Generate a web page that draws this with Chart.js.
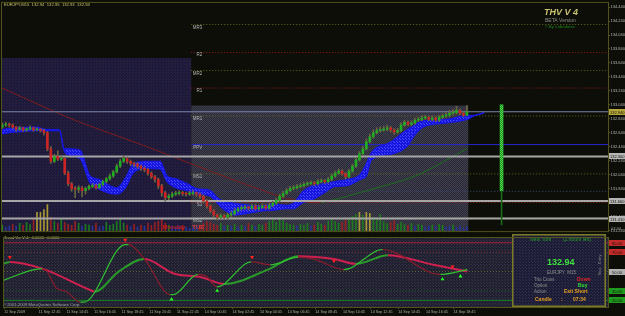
<!DOCTYPE html>
<html>
<head>
<meta charset="utf-8">
<script src="https://cdn.jsdelivr.net/npm/chart.js@4.4.0/dist/chart.umd.min.js"></script>
<style>
  html, body { margin: 0; padding: 0; background: #0c0e07; }
  #wrap { position: relative; width: 625px; height: 316px; overflow: hidden; }
  #main { position: absolute; left: 0; top: 0; }
  #osc { position: absolute; left: 0; top: 234px; }
</style>
</head>
<body>
<div id="wrap">
  <canvas id="main" width="625" height="234"></canvas>
  <canvas id="osc" width="625" height="82"></canvas>
</div>
<script>
// ---------------- DATA ----------------
// EURJPY M15, bar 0 = 11 Sep 2009 10:15
const firstOpen = 132.72;
const closes = [
  132.75,132.76,132.75,132.72,132.69,132.71,132.68,132.69,132.71,132.68,
  132.69,132.67,132.64,132.41,132.23,132.30,132.26,132.27,132.06,131.91,
  131.84,131.83,131.85,131.81,131.84,131.87,131.88,131.85,131.90,131.94,
  131.98,132.02,132.08,132.16,132.23,132.27,132.23,132.20,132.19,132.16,
  132.13,132.11,132.06,132.01,131.97,131.88,131.78,131.71,131.73,131.76,
  131.77,131.78,131.77,131.76,131.77,131.78,131.76,131.73,131.66,131.59,
  131.52,131.46,131.43,131.45,131.43,131.46,131.48,131.52,131.55,131.56,
  131.57,131.56,131.59,131.55,131.57,131.59,131.56,131.60,131.63,131.67,
  131.73,131.77,131.81,131.84,131.85,131.87,131.88,131.90,131.91,131.92,
  131.91,131.94,131.95,131.94,131.97,132.02,132.06,132.09,132.05,132.01,
  132.09,132.16,132.25,132.34,132.41,132.51,132.58,132.64,132.67,132.68,
  132.69,132.71,132.68,132.65,132.67,132.75,132.79,132.76,132.78,132.82,
  132.83,132.85,132.86,132.83,132.85,132.82,132.86,132.88,132.89,132.92,
  132.93,132.96,132.92,132.89,132.94
];
const highs = [
  132.78,132.79,132.78,132.77,132.73,132.73,132.72,132.71,132.74,132.72,
  132.71,132.70,132.69,132.66,132.44,132.33,132.38,132.30,132.29,132.09,
  131.93,131.87,131.88,131.87,131.86,131.89,131.91,131.90,131.92,131.96,
  132.00,132.05,132.10,132.19,132.26,132.31,132.29,132.25,132.22,132.21,
  132.18,132.15,132.13,132.08,132.03,131.99,131.90,131.80,131.76,131.79,
  131.80,131.81,131.80,131.79,131.80,131.81,131.79,131.78,131.75,131.68,
  131.61,131.54,131.48,131.48,131.47,131.49,131.51,131.55,131.57,131.59,
  131.60,131.59,131.61,131.61,131.60,131.62,131.61,131.63,131.66,131.70,
  131.76,131.80,131.84,131.87,131.88,131.90,131.91,131.93,131.94,131.95,
  131.94,131.97,131.98,131.97,132.00,132.05,132.09,132.12,132.11,132.07,
  132.11,132.19,132.28,132.37,132.45,132.55,132.62,132.68,132.71,132.72,
  132.73,132.75,132.73,132.70,132.70,132.78,132.82,132.81,132.81,132.85,
  132.86,132.88,132.89,132.88,132.88,132.87,132.89,132.91,132.93,132.96,
  132.97,133.02,132.98,132.94,133.03
];
const lows = [
  132.70,132.73,132.72,132.70,132.66,132.67,132.66,132.66,132.68,132.66,
  132.67,132.65,132.61,132.38,132.20,132.21,132.24,132.24,132.04,131.88,
  131.80,131.71,131.78,131.72,131.76,131.82,131.85,131.83,131.84,131.88,
  131.92,131.96,132.00,132.06,132.14,132.21,132.20,132.17,132.15,132.13,
  132.10,132.08,132.03,131.98,131.93,131.84,131.73,131.66,131.68,131.71,
  131.74,131.75,131.74,131.73,131.74,131.75,131.73,131.70,131.63,131.56,
  131.49,131.43,131.39,131.41,131.40,131.41,131.44,131.46,131.50,131.53,
  131.54,131.53,131.54,131.53,131.53,131.55,131.54,131.54,131.58,131.61,
  131.65,131.71,131.75,131.79,131.82,131.83,131.85,131.86,131.88,131.89,
  131.88,131.89,131.92,131.91,131.92,131.95,132.00,132.04,132.03,131.98,
  131.99,132.07,132.14,132.23,132.32,132.39,132.49,132.56,132.62,132.65,
  132.66,132.67,132.65,132.62,132.63,132.65,132.73,132.74,132.74,132.76,
  132.80,132.81,132.83,132.81,132.81,132.80,132.80,132.84,132.86,132.87,
  132.90,132.91,132.90,132.87,132.88
];
const volumes = [
  210,140,175,245,175,280,210,315,245,420,
  665,665,770,945,490,350,280,420,315,245,
  210,350,280,175,245,210,175,280,140,175,
  315,210,245,350,420,280,210,175,245,140,
  210,175,280,210,315,350,420,280,210,175,
  140,175,210,140,105,140,175,210,280,350,
  315,245,210,280,175,210,175,245,140,210,
  175,280,210,175,245,210,280,350,420,315,
  490,385,280,245,210,175,245,210,280,175,
  210,315,245,210,350,420,350,280,315,385,
  455,525,595,665,560,665,630,490,420,595,
  350,280,315,385,245,315,245,210,280,175,
  245,210,140,175,210,175,245,210,140,175,
  210,140,175,105,140
];

// blue ribbon (upper / lower edge)
const bandIdx = [-1,4,10,12,16.5,17.8,18.5,22.4,25.3,28,31,33,35.5,37.7,41,45.5,47.5,50,53.3,56,60,62,63.7,67,71.4,75,78,82,84,86.7,89,92.5,96,99.4,103.2,105,106.5,111.8,116.7,119,121.3,128.3,134,136,139];
const bandTop = [132.68,132.71,132.72,132.69,132.68,132.41,132.41,132.39,132.02,131.97,131.88,131.85,131.99,132.19,132.23,132.23,132.02,131.98,131.91,131.84,131.81,131.71,131.66,131.63,131.60,131.59,131.62,131.60,131.63,131.80,131.87,131.91,131.94,131.97,132.04,132.20,132.36,132.50,132.68,132.75,132.81,132.83,132.89,132.89,132.93];
const bandBot = [132.62,132.65,132.67,132.67,132.67,132.39,132.33,132.27,131.92,131.83,131.77,131.76,131.85,132.06,132.13,132.12,131.94,131.85,131.81,131.76,131.73,131.63,131.55,131.46,131.49,131.52,131.53,131.55,131.55,131.64,131.67,131.77,131.87,131.88,131.97,132.02,132.25,132.33,132.44,132.61,132.72,132.78,132.83,132.88,132.92];

// slow moving average
const maIdx = [-0.09,20.4,40.6,60,81,86,92,103,115,121,134];
const maVals = [133.28,132.83,132.46,132.09,131.71,131.66,131.64,131.78,131.95,132.06,132.41];

// levels
const bidPrice = 132.94;
const rangeLevels = [132.30, 131.66, 131.41];
const guideLevel = 131.80;
const pivotStart = 54.5;
const pivotNames = ['MR3','R2','MR2','R1','MR1','PPV','MS1','S1','MS2'];
const pivotVals = [134.19,133.79,133.53,133.28,132.88,132.47,132.05,131.64,131.42];

// session boxes (Friday / Monday)
const sessionStart = [-0.09, 54.5];
const sessionEnd = [54.5, 134.4];
const sessionHigh = [133.71, 133.03];

// projected candle
const projIdx = 144;
const projOpen = 131.81, projClose = 133.04, projLow = 131.32;

// axes
const xMin = -0.09, xMax = 174.7;
const priceTicks = [134.44,134.24,134.04,133.84,133.64,133.44,133.24,133.04,132.84,132.64,132.44,132.24,132.04,131.84,131.64,131.44,131.24];
const timeIdx = [0,10,18,26,34,42,50,58,66,74,82,90,98,106,114,122,130];
const timeLabels = ['11 Sep 2009','11 Sep 12:45','11 Sep 14:45','11 Sep 16:45','11 Sep 18:45','11 Sep 20:45','11 Sep 22:45',
  '14 Sep 00:45','14 Sep 02:45','14 Sep 04:45','14 Sep 06:45','14 Sep 08:45','14 Sep 10:45','14 Sep 12:45',
  '14 Sep 14:45','14 Sep 16:45','14 Sep 18:45'];

// oscillator (Trend Vs. V 4)
const fastIdx = [-1,11,12,15,18,22,23,35,36,40.6,48,49,56,58.5,61.5,71.5,77,85,89.6,98.3,109.5,126.2,134];
const fastVals = [40,53,52,33,29,18,18,78,78,63,26,26,47,45,34,60,57,65,63,52,73,47,52];
const slowIdx = [-1,1.6,11,25.3,26.2,33.1,40.6,49,57,63.7,76.3,85,95.4,101.7,111,124.2,134];
const slowVals = [57,60,53,30,29,50,63,48,44,37,52,66,63,58,67,57,50];
const downIdx = [1.6,35,71.7,95.4,129.7];
const downVals = [65,83,65,61,55];
const upIdx = [48.4,61.6,126.8,132];
const upVals = [21,30,42,45];
const oscLevels = [80,70,50,30,20];

// ---------------- HELPERS ----------------
const FONT = '"Liberation Sans", Arial, sans-serif';

function dotPattern(base, dot, size) {
  const c = document.createElement('canvas');
  c.width = size; c.height = size;
  const g = c.getContext('2d');
  g.fillStyle = base; g.fillRect(0, 0, size, size);
  g.fillStyle = dot;
  g.fillRect(0, 0, 1, 1);
  g.fillRect(Math.floor(size / 2), Math.floor(size / 2), 1, 1);
  return g.createPattern(c, 'repeat');
}

const pat = {
  fri: dotPattern('#1b1a3c', '#33233a', 3),
  mon: dotPattern('#282838', '#40404c', 2),
  band: dotPattern('#1616e0', '#4c4cf8', 3),
  osc: dotPattern('#202032', '#34343e', 3),
  widget: dotPattern('#1c1c36', '#30304a', 3),
  proj: dotPattern('#1c9c1c', '#50d050', 2)
};

const pts = (xs, ys) => xs.map((v, k) => ({ x: v, y: ys[k] }));
const hline = (v, from, to) => [{ x: from, y: v }, { x: to, y: v }];

const opens = closes.map((c, i) => i === 0 ? firstOpen : closes[i - 1]);
const isUp = closes.map((c, i) => c >= opens[i]);

function volColor(i) {
  if (volumes[i] >= 600) return '#a89a30';
  if (volumes[i] < 200) return '#283496';
  return isUp[i] ? '#1b7a1b' : '#942020';
}

function pivotStyle(n) {
  if (n === 'PPV') return { color: '#2626cc', dash: [] };
  if (n.startsWith('M')) return { color: '#6a6a22', dash: [1, 2] };
  return { color: '#9c1c1c', dash: [1, 2] };
}

// ---------------- MAIN CHART ----------------
const mainDeco = {
  id: 'mainDeco',
  beforeDraw(chart) {
    const { ctx, chartArea: a, scales: { x, y } } = chart;
    ctx.save();
    ctx.fillStyle = '#0c0e07';
    ctx.fillRect(0, 0, chart.width, chart.height);
    sessionStart.forEach((s, k) => {
      const x0 = Math.max(a.left, x.getPixelForValue(s));
      const x1 = Math.min(a.right, x.getPixelForValue(sessionEnd[k]));
      const y0 = y.getPixelForValue(sessionHigh[k]);
      ctx.fillStyle = k === 0 ? pat.fri : pat.mon;
      ctx.fillRect(x0, y0, x1 - x0, a.bottom - y0);
    });
    ctx.restore();
  },
  afterDraw(chart) {
    const { ctx, chartArea: a, scales: { x, y } } = chart;
    ctx.save();
    ctx.textBaseline = 'alphabetic';

    // pivot names
    const px0 = x.getPixelForValue(pivotStart);
    ctx.font = '4.5px ' + FONT;
    ctx.fillStyle = '#b4b4b4';
    ctx.textAlign = 'right';
    pivotNames.forEach((n, k) => {
      ctx.fillText(n, px0 + 11, y.getPixelForValue(pivotVals[k]) + 4);
    });

    // day separator labels
    ctx.font = 'bold 6px ' + FONT;
    ctx.fillStyle = '#c41c1c';
    ctx.fillText('Monday', px0 - 6, a.bottom - 2);
    ctx.textAlign = 'left';
    ctx.fillStyle = '#e03a3a';
    ctx.fillText('TUE', px0 + 1, a.bottom - 2);

    // header
    ctx.font = '4.2px ' + FONT;
    ctx.fillStyle = '#c8c070';
    ctx.fillText('EURJPY,M15  132.94  132.95  132.93  132.94', 4, 6);

    // THV banner
    ctx.font = 'italic bold 9px ' + FONT;
    ctx.fillStyle = '#c8c272';
    ctx.fillText('THV V 4', 544, 15);
    ctx.font = '5px ' + FONT;
    ctx.fillStyle = '#8c8c8c';
    ctx.fillText('BETA Version', 545, 22);
    ctx.font = '4px ' + FONT;
    ctx.fillStyle = '#1e8e1e';
    ctx.fillText('\u00a9 By Cobraforex', 545, 28);

    // right axis price boxes
    ctx.font = '4px ' + FONT;
    ctx.textBaseline = 'middle';
    const boxes = [[bidPrice, '#b4a63a']].concat(rangeLevels.map(v => [v, '#b4b4b4']));
    boxes.forEach(([v, col]) => {
      const py = Math.round(y.getPixelForValue(v));
      ctx.fillStyle = col;
      ctx.fillRect(a.right + 1, py - 3, 16, 6);
      ctx.fillStyle = '#141408';
      ctx.fillText(v.toFixed(3), a.right + 2, py + 0.5);
    });
    ctx.fillStyle = '#a0a0a0';
    ctx.fillText('07:34', a.right + 3, a.bottom - 2);

    // frame
    ctx.strokeStyle = '#52521c';
    ctx.lineWidth = 1;
    ctx.strokeRect(a.left - 0.5, a.top - 0.5, a.right - a.left + 1, a.bottom - a.top + 1);
    ctx.restore();
  }
};

const idx = closes.map((c, i) => i);
const mainDatasets = [
  {
    type: 'bar', label: 'body',
    data: idx.map(i => ({ x: i, y: [opens[i], closes[i]] })),
    backgroundColor: isUp.map(u => u ? '#1fae1f' : '#cc2424'),
    barThickness: 2, minBarLength: 1, grouped: false, order: 1
  },
  {
    type: 'bar', label: 'wick',
    data: idx.map(i => ({ x: i, y: [lows[i], highs[i]] })),
    backgroundColor: '#6a6640',
    barThickness: 1, grouped: false, order: 2
  },
  {
    type: 'bar', label: 'projBody',
    data: [{ x: projIdx, y: [projOpen, projClose] }],
    backgroundColor: pat.proj,
    barThickness: 3, grouped: false, order: 1
  },
  {
    type: 'bar', label: 'projWick',
    data: [{ x: projIdx, y: [projLow, projOpen] }],
    backgroundColor: '#1a6a1a',
    barThickness: 1, grouped: false, order: 2
  },
  {
    type: 'line', label: 'bandTop',
    data: pts(bandIdx, bandTop),
    borderColor: '#1818e6', borderWidth: 1.2, pointRadius: 0,
    cubicInterpolationMode: 'monotone', fill: false, order: 4
  },
  {
    type: 'line', label: 'bandBot',
    data: pts(bandIdx, bandBot),
    borderColor: '#1818e6', borderWidth: 1.2, pointRadius: 0,
    cubicInterpolationMode: 'monotone', fill: '-1', backgroundColor: pat.band, order: 4
  },
  {
    type: 'line', label: 'ma',
    data: pts(maIdx, maVals),
    borderWidth: 1, pointRadius: 0, tension: 0.3,
    segment: { borderColor: s => s.p1.parsed.y >= s.p0.parsed.y ? '#1b6e1b' : '#7e1c1c' },
    borderColor: '#7e1c1c', order: 5
  },
  {
    type: 'line', label: 'bid',
    data: hline(bidPrice, xMin, xMax),
    borderColor: '#7a86aa', borderWidth: 1, pointRadius: 0, order: 3
  },
  ...rangeLevels.map(v => ({
    type: 'line', label: 'range',
    data: hline(v, xMin, xMax),
    borderColor: '#a6a6a6', borderWidth: 2, pointRadius: 0, order: 3
  })),
  {
    type: 'line', label: 'guide',
    data: hline(guideLevel, pivotStart, xMax),
    borderColor: '#3a4a6e', borderWidth: 1, borderDash: [1, 2], pointRadius: 0, order: 6
  },
  ...pivotNames.map((n, k) => {
    const st = pivotStyle(n);
    return {
      type: 'line', label: n,
      data: hline(pivotVals[k], pivotStart, xMax),
      borderColor: st.color, borderWidth: 1, borderDash: st.dash, pointRadius: 0, order: 6
    };
  }),
  {
    type: 'bar', label: 'volume', yAxisID: 'yv',
    data: idx.map(i => ({ x: i, y: volumes[i] })),
    backgroundColor: idx.map(volColor),
    barThickness: 1, grouped: false, order: 7
  }
];

new Chart(document.getElementById('main'), {
  type: 'bar',
  data: { datasets: mainDatasets },
  options: {
    responsive: false, animation: false, events: [],
    layout: { padding: { left: 2, top: 1, right: 0, bottom: 1 } },
    plugins: { legend: { display: false }, tooltip: { enabled: false } },
    scales: {
      x: { type: 'linear', min: xMin, max: xMax, display: false, offset: false, grid: { offset: false } },
      y: {
        position: 'right', min: 131.23, max: 134.50,
        afterFit: s => { s.width = 17; },
        afterBuildTicks: s => { s.ticks = priceTicks.map(v => ({ value: v })); },
        ticks: {
          autoSkip: false, padding: 0.5, color: '#b8b8b8',
          font: { family: 'Liberation Sans', size: 4 },
          callback: v => Number(v).toFixed(3)
        },
        grid: { drawOnChartArea: false, tickLength: 2, color: '#56561c' },
        border: { display: false }
      },
      yv: { display: false, min: 0, max: 8120 }
    }
  },
  plugins: [mainDeco]
});

// ---------------- OSCILLATOR ----------------
const oscDeco = {
  id: 'oscDeco',
  beforeDraw(chart) {
    const { ctx, chartArea: a } = chart;
    ctx.save();
    ctx.fillStyle = '#0c0e07';
    ctx.fillRect(0, 0, chart.width, chart.height);
    ctx.fillStyle = pat.osc;
    ctx.fillRect(a.left, a.top, a.right - a.left, a.bottom - a.top);
    ctx.restore();
  },
  afterDraw(chart) {
    const { ctx, chartArea: a, scales: { y } } = chart;
    ctx.save();
    ctx.textBaseline = 'middle';
    ctx.textAlign = 'left';

    ctx.font = '4px ' + FONT;
    ctx.fillStyle = '#c8c070';
    ctx.fillText('Trend Vs. V 4   0.0000   0.0000', 4, 3.5);
    ctx.font = '4.2px ' + FONT;
    ctx.fillStyle = '#a0a0a0';
    ctx.fillText('\u00a9 2001-2009 MetaQuotes Software Corp.', 3, 70.5);

    // info widget
    const wx = 512, ww = 94, wh = 73;
    ctx.fillStyle = pat.widget;
    ctx.fillRect(wx, 0, ww, wh);
    ctx.strokeStyle = '#7c7c26';
    ctx.lineWidth = 1.5;
    ctx.strokeRect(wx + 0.75, 0.75, ww - 1.5, wh - 1.5);

    ctx.font = '5px ' + FONT;
    ctx.fillStyle = '#22a022';
    ctx.fillText('New York', 530, 5.5);
    ctx.fillText('(2 hours left)', 563, 5.5);
    ctx.font = 'bold 9px ' + FONT;
    ctx.fillStyle = '#3ee03e';
    ctx.fillText('132.94', 547, 29);
    ctx.font = '4.5px ' + FONT;
    ctx.fillStyle = '#909090';
    ctx.fillText('EURJPY  M15', 547, 39);
    ctx.fillText('Trio Cross', 534, 46);
    ctx.fillText('Option', 534, 52);
    ctx.fillText('Action', 534, 58);
    ctx.font = 'bold 5px ' + FONT;
    ctx.fillStyle = '#e42424';
    ctx.fillText('Down', 577, 46);
    ctx.fillStyle = '#30e030';
    ctx.fillText('Buy', 578, 52);
    ctx.fillStyle = '#e8a020';
    ctx.fillText('Exit Short', 564, 58);
    ctx.fillText('Candle', 535, 66);
    ctx.fillText(':', 561, 66);
    ctx.fillText('07:34', 573, 66);

    ctx.save();
    ctx.translate(600, 31);
    ctx.rotate(-Math.PI / 2);
    ctx.font = '4px ' + FONT;
    ctx.fillStyle = '#808080';
    ctx.textAlign = 'center';
    ctx.fillText('Stop   Entry', 0, 0);
    ctx.restore();

    // level boxes on the right
    ctx.font = '4px ' + FONT;
    oscLevels.forEach(v => {
      const py = Math.round(y.getPixelForValue(v));
      ctx.fillStyle = v >= 70 ? '#c42a2a' : v <= 30 ? '#1e9a1e' : '#b0b0b0';
      ctx.fillRect(a.right + 1, py - 3, 16, 6);
      ctx.fillStyle = '#141408';
      ctx.fillText(v.toFixed(2), a.right + 4, py + 0.5);
    });

    ctx.strokeStyle = '#52521c';
    ctx.lineWidth = 1;
    ctx.strokeRect(a.left - 0.5, a.top - 0.5, a.right - a.left + 1, a.bottom - a.top + 1);
    ctx.restore();
  }
};

const slopeColor = (up, down) => ({ borderColor: s => s.p1.parsed.y >= s.p0.parsed.y ? up : down });

new Chart(document.getElementById('osc'), {
  type: 'line',
  data: {
    datasets: [
      ...oscLevels.map(v => ({
        label: 'lvl' + v,
        data: hline(v, xMin, xMax),
        borderColor: v >= 70 ? (v === 80 ? '#a01e3a' : '#7e2232') : v <= 30 ? (v === 20 ? '#1a8426' : '#1a5a1e') : '#64642c',
        borderWidth: 1, borderDash: (v === 80 || v === 20) ? [] : [1, 2],
        pointRadius: 0, order: 5
      })),
      {
        label: 'slow', data: pts(slowIdx, slowVals),
        borderWidth: 2, pointRadius: 0, cubicInterpolationMode: 'monotone',
        borderColor: '#d02050', segment: slopeColor('#2a9a2a', '#d02050'), order: 2
      },
      {
        label: 'fast', data: pts(fastIdx, fastVals),
        borderWidth: 1.2, pointRadius: 0, cubicInterpolationMode: 'monotone',
        borderColor: '#8a1c2c', segment: slopeColor('#30c030', '#8a1c2c'), order: 1
      },
      {
        label: 'down', data: pts(downIdx, downVals), showLine: false,
        pointStyle: 'triangle', rotation: 180, pointRadius: 2.3,
        pointBackgroundColor: '#ff2020', pointBorderColor: '#ff2020', pointBorderWidth: 0, order: 0
      },
      {
        label: 'up', data: pts(upIdx, upVals), showLine: false,
        pointStyle: 'triangle', rotation: 0, pointRadius: 2.3,
        pointBackgroundColor: '#20ff20', pointBorderColor: '#20ff20', pointBorderWidth: 0, order: 0
      }
    ]
  },
  options: {
    responsive: false, animation: false, events: [],
    layout: { padding: { left: 2, top: 1, right: 0, bottom: 0 } },
    plugins: { legend: { display: false }, tooltip: { enabled: false } },
    scales: {
      x: {
        type: 'linear', min: xMin, max: xMax, offset: false,
        afterFit: s => { s.height = 9; },
        afterBuildTicks: s => { s.ticks = timeIdx.map(v => ({ value: v })); },
        ticks: {
          autoSkip: false, maxRotation: 0, minRotation: 0, align: 'start', padding: 1,
          color: '#b0b0a0', font: { family: 'Liberation Sans', size: 3.7 },
          callback: (v, k) => timeLabels[k]
        },
        grid: { drawOnChartArea: false, tickLength: 2, color: '#56561c' },
        border: { display: false }
      },
      y: {
        position: 'right', min: 13, max: 85,
        afterFit: s => { s.width = 17; },
        ticks: { display: false },
        grid: { display: false },
        border: { display: false }
      }
    }
  },
  plugins: [oscDeco]
});
</script>
</body>
</html>
